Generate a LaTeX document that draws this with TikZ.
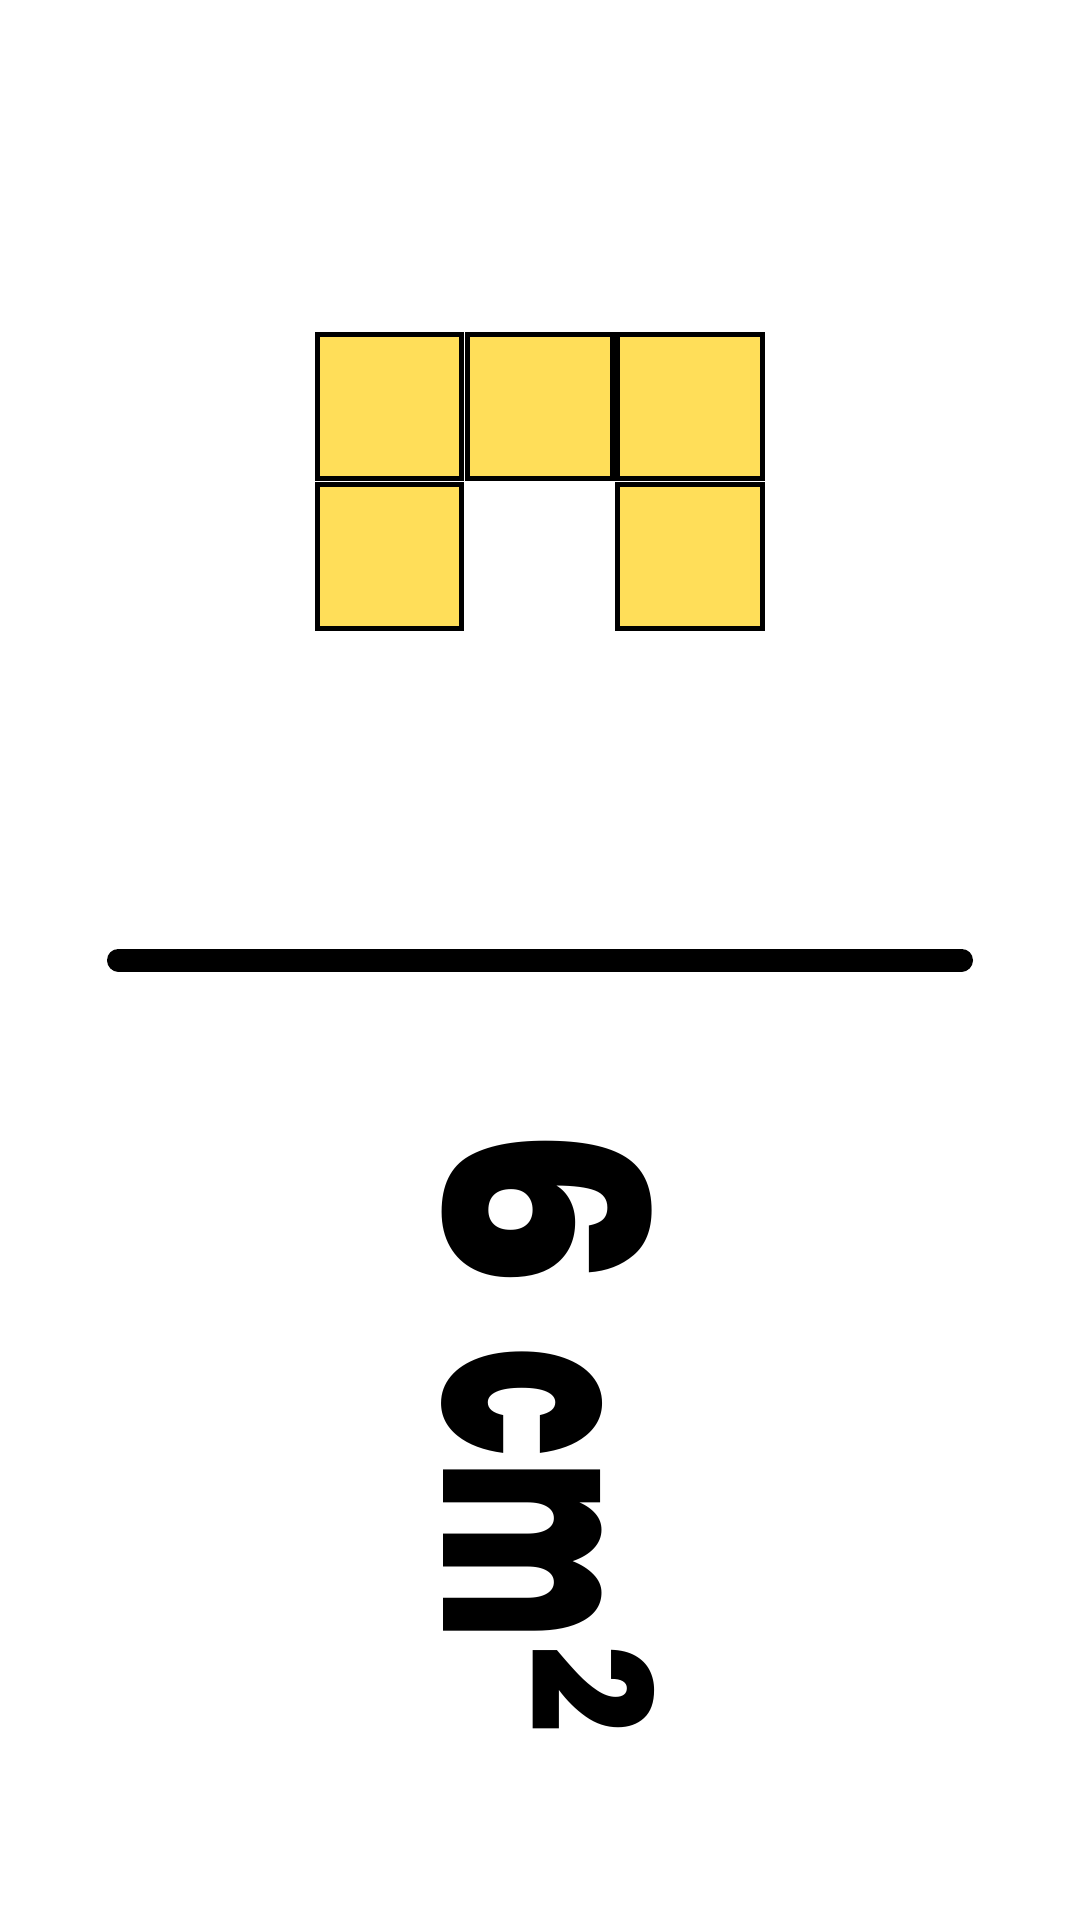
\documentclass[tikz,border=0pt]{standalone}
\usepackage{fontspec}
\setmainfont{Poppins}
\newfontfamily\heavyfont{Poppins}[UprightFont={* ExtraBold}]
\definecolor{tileyellow}{HTML}{FFDE59}
\tikzset{
  tile/.style={draw=black, fill=tileyellow, line width=5pt, minimum width=144.5pt, minimum height=144.5pt, inner sep=0pt, outer sep=0pt},
  bar/.style={line width=23pt, line cap=round, draw=black},
  area/.style={rotate=-90, anchor=base west, inner sep=0pt, outer sep=0pt, font=\heavyfont}
}
\begin{document}
\begin{tikzpicture}[x=1pt, y=-1pt]
  \useasboundingbox (0,0) rectangle (1080,1920);
  \node[tile] (t1) at (389.5,406.5) {};
  \node[tile] (t2) at (540,406.5) {};
  \node[tile] (t3) at (690,406.5) {};
  \node[tile] (t4) at (389.5,556.5) {};
  \node[tile] (t5) at (690,556.5) {};
  \coordinate (barL) at (118.5,960);
  \coordinate (barR) at (961.5,960);
  \draw[bar] (barL) -- (barR);
  \node[area] (lbl) at (443,1126) {\fontsize{280}{280}\selectfont\scalebox{0.92}[1]{6} \hspace{4pt}\scalebox{0.65}[1]{c}\hspace{3pt}\scalebox{0.60}[1]{m}\hspace{6pt}\raisebox{88pt}{\fontsize{165}{165}\selectfont\scalebox{0.93}[1]{2}}};
\end{tikzpicture}
\end{document}
